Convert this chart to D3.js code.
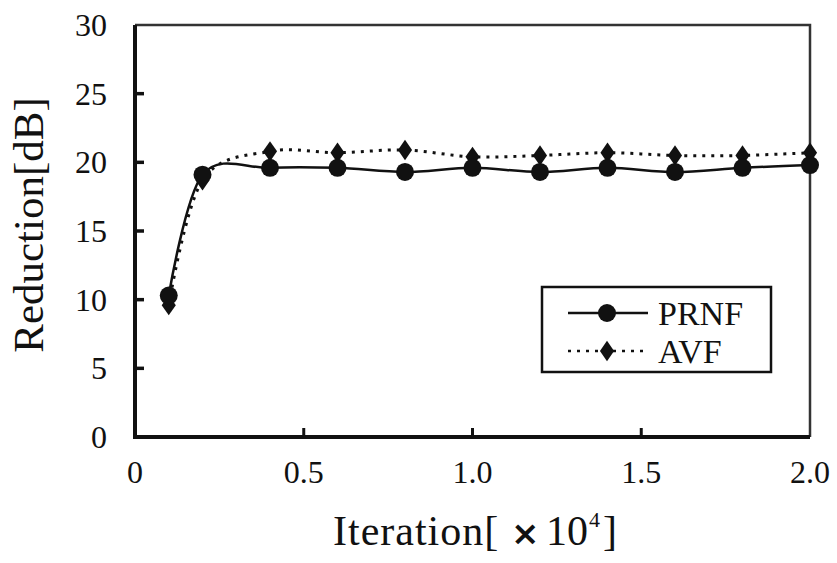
<!DOCTYPE html>
<html>
<head>
<meta charset="utf-8">
<script src="https://cdn.jsdelivr.net/npm/d3@7"></script>
<style>
  body { margin: 0; background: #fff; }
</style>
</head>
<body>
<script>
// data
var iterations = [0.1, 0.2, 0.4, 0.6, 0.8, 1.0, 1.2, 1.4, 1.6, 1.8, 2.0];
var prnf = [10.3, 19.1, 19.6, 19.6, 19.3, 19.6, 19.3, 19.6, 19.3, 19.6, 19.8];
var avf  = [9.6, 18.7, 20.8, 20.7, 20.9, 20.4, 20.5, 20.7, 20.5, 20.5, 20.7];
var xTicks = [0, 0.5, 1.0, 1.5, 2.0];
var xTickLabels = ["0", "0.5", "1.0", "1.5", "2.0"];
var yTicks = [0, 5, 10, 15, 20, 25, 30];

var width = 837, height = 563;
var margin = {left: 135, right: 27, top: 25, bottom: 126};
var serif = "'Liberation Serif'";

var svg = d3.select('body').append('svg')
    .attr('width', width)
    .attr('height', height);

var x = d3.scaleLinear().domain([0, 2]).range([margin.left, width - margin.right]);
var y = d3.scaleLinear().domain([0, 30]).range([height - margin.bottom, margin.top]);

//frame, thinner on top and right
svg.append('path')
    .attr('d', 'M' + x(0) + ',' + y(30) + 'H' + x(2) + 'V' + y(0))
    .attr('fill', 'none').attr('stroke', '#333').attr('stroke-width', 2.5);
svg.append('path')
    .attr('d', 'M' + x(0) + ',' + y(30) + 'V' + y(0) + 'H' + x(2))
    .attr('fill', 'none').attr('stroke', '#111').attr('stroke-width', 4);

//y ticks pointing in
svg.selectAll('.ytick').data(yTicks.slice(1, -1)).enter().append('line')
    .attr('x1', x(0)).attr('x2', x(0) + 9)
    .attr('y1', d => y(d)).attr('y2', d => y(d))
    .attr('stroke', '#111').attr('stroke-width', 3.5);

svg.selectAll('.ylab').data(yTicks).enter().append('text')
    .attr('x', x(0) - 28).attr('y', d => y(d) + 11)
    .attr('text-anchor', 'end')
    .attr('fill', '#111')
    .style('font-family', serif)
    .style('font-size', '32px')
    .text(d => d);

//x ticks pointing up
svg.selectAll('.xtick').data(xTicks.slice(1, -1)).enter().append('line')
    .attr('x1', d => x(d)).attr('x2', d => x(d))
    .attr('y1', y(0)).attr('y2', y(0) - 9)
    .attr('stroke', '#111').attr('stroke-width', 3);

svg.selectAll('.xlab').data(xTicks).enter().append('text')
    .attr('x', d => x(d)).attr('y', y(0) + 46)
    .attr('text-anchor', 'middle')
    .attr('fill', '#111')
    .style('font-family', serif)
    .style('font-size', '32px')
    .text((d, i) => xTickLabels[i]);

//axis titles
svg.append('text')
    .attr('transform', 'translate(43,225) rotate(-90)')
    .attr('text-anchor', 'middle')
    .attr('fill', '#111')
    .style('font-family', serif)
    .style('font-size', '43px')
    .text('Reduction[dB]');

var xt = svg.append('text')
    .attr('y', 545)
    .attr('fill', '#111')
    .style('font-family', serif)
    .style('font-size', '42px');
xt.append('tspan').attr('x', 333).style('letter-spacing', '1px').text('Iteration[');
xt.append('tspan').attr('x', 511).style('font-family', "'DejaVu Sans'")
    .style('font-size', '34px').style('font-weight', 'bold').text('\u00d7');
xt.append('tspan').attr('x', 546).text('10');
xt.append('tspan').attr('x', 589).attr('dy', -18).style('font-size', '22px').text('4');
xt.append('tspan').attr('x', 603).attr('dy', 18).text(']');

var line = d3.line()
    .x(d => x(d[0]))
    .y(d => y(d[1]))
    .curve(d3.curveCardinal.tension(0));

var prnfPts = iterations.map((d, i) => [d, prnf[i]]);
var avfPts = iterations.map((d, i) => [d, avf[i]]);

svg.append('path').datum(avfPts)
    .attr('d', line)
    .attr('fill', 'none').attr('stroke', '#111')
    .attr('stroke-width', 3).attr('stroke-dasharray', '3,6');

svg.append('path').datum(prnfPts)
    .attr('d', line)
    .attr('fill', 'none').attr('stroke', '#111').attr('stroke-width', 2.5);

var diamond = d3.symbol().type(d3.symbolDiamond).size(120);

svg.selectAll('.avf').data(avfPts).enter().append('path')
    .attr('d', diamond)
    .attr('transform', d => 'translate(' + x(d[0]) + ',' + y(d[1]) + ') scale(1.2,1)')
    .attr('fill', '#111');

svg.selectAll('.prnf').data(prnfPts).enter().append('circle')
    .attr('cx', d => x(d[0])).attr('cy', d => y(d[1]))
    .attr('r', 9).attr('fill', '#111');

//legend
var lg = svg.append('g');
lg.append('rect')
    .attr('x', 542).attr('y', 287).attr('width', 229).attr('height', 85)
    .attr('fill', '#fff').attr('stroke', '#111').attr('stroke-width', 2.5);
lg.append('line').attr('x1', 568).attr('x2', 648).attr('y1', 313).attr('y2', 313)
    .attr('stroke', '#111').attr('stroke-width', 2.5);
lg.append('circle').attr('cx', 607).attr('cy', 313).attr('r', 9).attr('fill', '#111');
lg.append('text').attr('x', 658).attr('y', 325).attr('fill', '#111')
    .style('font-family', serif).style('font-size', '34px').text('PRNF');
lg.append('line').attr('x1', 568).attr('x2', 648).attr('y1', 351).attr('y2', 351)
    .attr('stroke', '#111').attr('stroke-width', 2.5).attr('stroke-dasharray', '3,6');
lg.append('path').attr('d', diamond)
    .attr('transform', 'translate(607,351) scale(1.2,1)').attr('fill', '#111');
lg.append('text').attr('x', 658).attr('y', 363).attr('fill', '#111')
    .style('font-family', serif).style('font-size', '34px').text('AVF');
</script>
</body>
</html>
